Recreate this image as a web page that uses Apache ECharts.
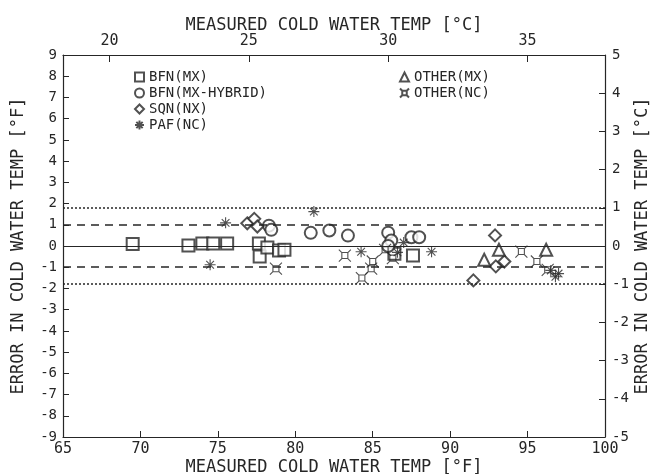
<!DOCTYPE html>
<html>
<head>
<meta charset="utf-8">
<script src="https://cdn.jsdelivr.net/npm/echarts@6/dist/echarts.min.js"></script>
<style>
  html, body { margin: 0; padding: 0; background: #fff; }
  #chart { width: 653px; height: 474px; }
</style>
</head>
<body>
<div id="chart"></div>
<script>
// measured cold water temp [°F], error [°F]
const bfnMx = [
  [69.5, 0.1], [73.1, 0.02], [74.0, 0.12], [74.7, 0.12], [75.6, 0.12],
  [77.65, 0.12], [77.7, -0.49], [78.2, -0.07], [78.95, -0.21], [79.3, -0.18],
  [86.4, -0.37], [87.6, -0.45]
];
const bfnHybrid = [
  [78.3, 0.96], [78.45, 0.76], [81.0, 0.62], [82.2, 0.73], [83.4, 0.49],
  [86.0, 0.63], [86.2, 0.26], [86.0, 0.0], [87.5, 0.41], [88.0, 0.41]
];
const sqnNx = [
  [76.9, 1.07], [77.35, 1.28], [77.55, 0.92], [92.9, 0.5], [92.95, -0.96],
  [93.5, -0.73], [91.5, -1.62]
];
const pafNc = [
  [75.5, 1.09], [74.5, -0.88], [81.2, 1.62], [84.25, -0.27], [87.0, 0.16],
  [86.6, -0.3], [88.8, -0.27], [96.5, -1.15], [97.0, -1.3], [96.8, -1.45]
];
const otherMx = [
  [93.15, -0.18], [92.2, -0.65], [96.2, -0.18]
];
const otherNc = [
  [78.75, -1.07], [83.2, -0.45], [84.3, -1.51], [84.9, -1.07], [85.0, -0.73],
  [85.8, -0.18], [86.3, -0.57], [94.6, -0.26], [95.6, -0.73], [96.3, -1.12]
];

// tick labels
const topTicksC = [20, 25, 30, 35];
const rightTicksC = [-5, -4, -3, -2, -1, 0, 1, 2, 3, 4, 5];
const dashedLinesF = [1, -1];
const dottedLinesF = [1.8, -1.8];

const FONT = 'DejaVu Sans Mono';
const INK = '#262626';

const toF = c => c * 9 / 5 + 32;
const topTicksF = topTicksC.map(toF);
const rightTicksF = rightTicksC.map(c => c * 1.8);

const starPath = 'path://M5,0L5,10M0,5L10,5M1.5,1.5L8.5,8.5M1.5,8.5L8.5,1.5';
const hornPath = 'path://M2.5,2.5L7.5,2.5L7.5,7.5L2.5,7.5ZM0,0L2.5,2.5M10,0L7.5,2.5M0,10L2.5,7.5M10,10L7.5,7.5';

const chart = echarts.init(document.getElementById('chart'), null, { renderer: 'canvas' });

function scatter(name, data, symbol, size, stroke) {
  return {
    name: name,
    type: 'scatter',
    data: data,
    symbol: symbol,
    symbolSize: size,
    itemStyle: stroke
      ? { color: 'rgba(0,0,0,0)', borderColor: INK, borderWidth: 1.1 }
      : { color: INK, borderWidth: 1.1 },
    emphasis: { disabled: true }
  };
}

const legendText = { fontFamily: FONT, fontSize: 14, color: INK };
const axisLineStyle = { show: true, onZero: false, lineStyle: { color: INK, width: 1.2 } };
const nameStyle = { fontFamily: FONT, fontSize: 17, color: INK };

chart.setOption({
  animation: false,
  backgroundColor: '#fff',
  grid: { left: 63, right: 48, top: 55, bottom: 37, outerBoundsMode: 'none', containLabel: false },
  legend: [
    {
      data: ['BFN(MX)', 'BFN(MX-HYBRID)', 'SQN(NX)', 'PAF(NC)'],
      orient: 'vertical',
      left: 129, top: 65,
      itemWidth: 9, itemHeight: 9, itemGap: 2,
      textStyle: legendText,
      selectedMode: false
    },
    {
      data: ['OTHER(MX)', 'OTHER(NC)'],
      orient: 'vertical',
      left: 394, top: 65,
      itemWidth: 9, itemHeight: 9, itemGap: 2,
      textStyle: legendText,
      selectedMode: false
    }
  ],
  xAxis: [
    {
      type: 'value', position: 'bottom',
      min: 65, max: 100, interval: 5,
      name: 'MEASURED COLD WATER TEMP [°F]',
      nameLocation: 'middle', nameGap: 22, nameMoveOverlap: false,
      nameTextStyle: nameStyle,
      axisLine: axisLineStyle,
      axisTick: { inside: true, length: 6, lineStyle: { color: INK } },
      axisLabel: { fontFamily: FONT, fontSize: 15, color: INK, margin: 5 },
      splitLine: { show: false }
    },
    {
      type: 'value', position: 'top',
      min: 65, max: 100,
      name: 'MEASURED COLD WATER TEMP [°C]',
      nameLocation: 'middle', nameGap: 21, nameMoveOverlap: false,
      nameTextStyle: nameStyle,
      axisLine: axisLineStyle,
      axisTick: { inside: true, length: 7, customValues: topTicksF, lineStyle: { color: INK } },
      axisLabel: {
        fontFamily: FONT, fontSize: 15, color: INK, margin: 6,
        customValues: topTicksF,
        formatter: v => String(Math.round((v - 32) * 5 / 9))
      },
      splitLine: { show: false }
    }
  ],
  yAxis: [
    {
      type: 'value', position: 'left',
      min: -9, max: 9, interval: 1,
      name: 'ERROR IN COLD WATER TEMP [°F]',
      nameLocation: 'middle', nameGap: 36, nameMoveOverlap: false,
      nameTextStyle: nameStyle,
      axisLine: axisLineStyle,
      axisTick: { inside: true, length: 6, lineStyle: { color: INK } },
      axisLabel: { fontFamily: FONT, fontSize: 14, color: INK, margin: 6 },
      splitLine: { show: false }
    },
    {
      type: 'value', position: 'right',
      min: -9, max: 9,
      name: 'ERROR IN COLD WATER TEMP [°C]',
      nameLocation: 'middle', nameGap: 29, nameMoveOverlap: false,
      nameRotate: 90,
      nameTextStyle: nameStyle,
      axisLine: axisLineStyle,
      axisTick: { inside: true, length: 6, customValues: rightTicksF, lineStyle: { color: INK } },
      axisLabel: {
        fontFamily: FONT, fontSize: 14, color: INK, margin: 7,
        customValues: rightTicksF,
        formatter: v => String(Math.round(v / 1.8))
      },
      splitLine: { show: false }
    }
  ],
  series: [
    Object.assign(scatter('BFN(MX)', bfnMx, 'emptyRect', 12, false), {
      markLine: {
        silent: true,
        symbol: 'none',
        label: { show: false },
        data: [{ yAxis: 0, lineStyle: { type: 'solid', color: INK, width: 1.2 } }]
          .concat(dashedLinesF.map(v => ({ yAxis: v, lineStyle: { type: [8, 6], color: INK, width: 1.5 } })))
          .concat(dottedLinesF.map(v => ({ yAxis: v, lineStyle: { type: [2, 2], color: INK, width: 1.5 } })))
      }
    }),
    scatter('BFN(MX-HYBRID)', bfnHybrid, 'emptyCircle', 12, false),
    scatter('SQN(NX)', sqnNx, 'emptyDiamond', 12, false),
    scatter('PAF(NC)', pafNc, starPath, 11, true),
    scatter('OTHER(MX)', otherMx, 'emptyTriangle', 12, false),
    scatter('OTHER(NC)', otherNc, hornPath, 12, true)
  ]
});
</script>
</body>
</html>
